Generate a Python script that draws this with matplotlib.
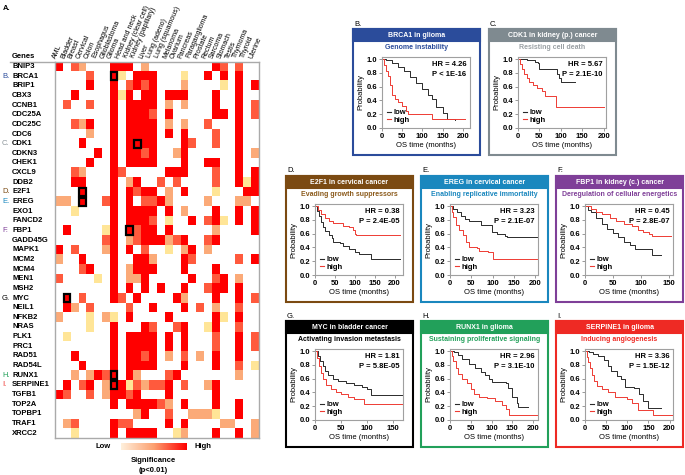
import numpy as np
import matplotlib
matplotlib.use('Agg')
import matplotlib.pyplot as plt
from matplotlib.colors import ListedColormap, LinearSegmentedColormap, BoundaryNorm
from matplotlib.patches import Rectangle
from matplotlib.lines import Line2D

plt.rcParams['font.family'] = ['Liberation Sans', 'DejaVu Sans']
plt.rcParams['font.weight'] = 'bold'

W, H = 685, 475

# heatmap: cancers (columns) and genes (rows)
cancers = ['AML', 'Bladder', 'Breast', 'Cervical', 'Colon', 'Esophagus', 'Glioblastoma',
           'Glioma', 'Head and neck', 'Kidney (clear cell)', 'Kidney (papillary)', 'Liver',
           'Lung (adeno)', 'Lung (squamous)', 'Melanoma', 'Ovarium', 'Pancreas',
           'Paraganglioma', 'Prostate', 'Rectum', 'Sarcoma', 'Stomach', 'Testis',
           'Thymoma', 'Thyroid', 'Uterine']
genes = ['BNIP3', 'BRCA1', 'BRIP1', 'CBX3', 'CCNB1', 'CDC25A', 'CDC25C', 'CDC6', 'CDK1',
         'CDKN3', 'CHEK1', 'CXCL9', 'DDB2', 'E2F1', 'EREG', 'EXO1', 'FANCD2', 'FBP1',
         'GADD45G', 'MAPK1', 'MCM2', 'MCM4', 'MEN1', 'MSH2', 'MYC', 'NEIL1', 'NFKB2',
         'NRAS', 'PLK1', 'PRC1', 'RAD51', 'RAD54L', 'RUNX1', 'SERPINE1', 'TGFB1',
         'TOP2A', 'TOPBP1', 'TRAF1', 'XRCC2']
# significance level per cell: . = none, 1 = low ... 4 = high
levels = [
    "4.32. ..444 .2... ..... 43.3. .",
    "....3 ..41. 444.. .1..4 .4.4. .",
    "....4 ..4.3 434.. .2... .1.4. 4",
    "..4.. ..414 .44.4 44... 4..4. .",
    ".3..3 ..4.4 444.2 .2... 4..4. 3",
    "..... ..4.4 443.4 ..... 44.4. 3",
    "..324 ..4.4 444.2 .2..3 ...4. .",
    "....2 ..4.4 444.4 .4... 3..4. .",
    "...4. ..4.4 444.. .43.. 3..4. .",
    "..... 4.4.4 434.. 24... ...4. 2",
    "....4 ..4.4 444.. .4..4 4..4. .",
    "..32. ..43. ....4 44... 3..4. 4",
    "..44. ..4.2 4..3. 3.... 3..41 4",
    "...4. ..4.4 344.2 .4... 1...4 4",
    "22.4. .34.4 .3342 ....2 ...22 .",
    "..1.. ..4.4 444.4 .2... 4..4. 4",
    "..... ..4.4 443.1 ..4.3 41.4. 4",
    ".4... .14.4 344.4 ..... 2.... 4",
    "..... .34.2 34442 34..3 4.... .",
    "4.3.. .24.4 .3..1 .24.2 ..... .",
    "2..4. ..4.. 442.. .43.. ...3. 4",
    "...34 ..4.2 444.. .4... 4.... .",
    "3.... 1.4.2 24... ..4.. 34.2. .",
    "..... ..4.4 .4.4. .4..3 44.4. .",
    ".4.3. ..43. 4.... 42... 4..4. 3",
    ".42.3 ....3 ..4.. .4.3. 2..3. .",
    "2...1 .21.4 ....4 ..... 41.4. .",
    "....1 ..4.. .43.. 34..1 4..3. .",
    ".1... ..4.4 444.4 .4... 3..4. 3",
    "..... ..4.4 444.4 .4... 3..4. 3",
    "..4.. ..4.4 434.2 .3.2. 4..4. .",
    "...4. ..4.4 444.. .4... 4..3. 1",
    "..2.2 434.4 2...3 4.... ...2. .",
    ".4.34 .2441 32334 .3..2 4.... .",
    "43..3 .2443 4...4 ..... 4.... .",
    "..... ..4.4 44432 .4... 4..4. .",
    "..... ..... 24..3 ..222 1..4. .",
    ".23.. ..433 ....4 .4... .22.. 2",
    "..1.. ..4.4 444.. 12... 4..4. 2",
]
marked = [('BRCA1', 'Glioma'), ('CDK1', 'Kidney (papillary)'), ('E2F1', 'Cervical'),
          ('EREG', 'Cervical'), ('FBP1', 'Kidney (clear cell)'), ('MYC', 'Bladder'),
          ('RUNX1', 'Glioma'), ('SERPINE1', 'Glioma')]
tags = {'BRCA1': ('B.', '#2b4c9b'), 'CDK1': ('C.', '#8a9399'), 'E2F1': ('D.', '#7b4a12'),
        'EREG': ('E.', '#1a87be'), 'FBP1': ('F.', '#7f3f98'), 'MYC': ('G.', '#000000'),
        'RUNX1': ('H.', '#22a05a'), 'SERPINE1': ('I.', '#ee2a24')}

# Kaplan-Meier curves (months, survival)
B_low = [(0, 1), (10, .98), (25, .95), (40, .89), (55, .82), (70, .74), (85, .66), (100, .56),
         (115, .48), (125, .42), (135, .30), (150, .22), (160, .13), (180, .12)]
B_high = [(0, 1), (5, .92), (10, .83), (15, .76), (20, .62), (25, .48), (32, .42), (40, .38),
          (50, .32), (60, .25), (65, .20), (125, .13), (205, .13)]
C_low = [(0, 1), (20, .98), (40, .96), (47, .94), (49, .86), (85, .85), (92, .78), (96, .72),
         (100, .67), (132, .67)]
C_high = [(0, 1), (5, .93), (10, .86), (15, .79), (20, .72), (25, .67), (35, .63), (45, .58),
          (55, .53), (62, .47), (88, .31), (200, .31)]
D_low = [(0, 1), (5, .93), (10, .85), (15, .77), (20, .69), (25, .64), (35, .58), (42, .54),
         (46, .48), (63, .46), (70, .42), (85, .38), (100, .33), (110, .30), (140, .23), (214, .23)]
D_high = [(0, 1), (8, .95), (15, .89), (25, .82), (35, .78), (45, .76), (60, .75), (70, .71),
          (85, .69), (95, .66), (100, .60), (104, .58), (214, .58)]
E_low = [(0, 1), (8, .96), (16, .92), (25, .86), (35, .81), (45, .79), (60, .78), (72, .73),
         (90, .72), (98, .63), (110, .60), (130, .57), (135, .55), (205, .55)]
E_high = [(0, 1), (4, .92), (8, .84), (15, .72), (22, .65), (30, .58), (38, .48), (45, .40),
          (63, .39), (68, .35), (90, .33), (102, .23), (205, .23)]
F_low = [(0, 1), (5, .95), (10, .91), (20, .83), (30, .74), (40, .67), (50, .61), (60, .55),
         (70, .48), (80, .43), (90, .38), (100, .37), (120, .29), (137, .29)]
F_high = [(0, 1), (10, .96), (20, .92), (30, .88), (45, .82), (55, .78), (70, .74), (85, .71),
          (95, .65), (105, .62), (115, .60), (120, .56), (154, .56)]
G_low = [(0, 1), (5, .93), (10, .85), (15, .78), (20, .71), (25, .66), (35, .60), (45, .56),
         (60, .53), (75, .51), (90, .48), (100, .45), (108, .36), (168, .36)]
G_high = [(0, 1), (4, .90), (8, .79), (12, .68), (16, .59), (22, .51), (30, .45), (40, .41),
          (50, .38), (63, .33), (75, .31), (94, .30), (95, .23), (168, .23)]
H_low = [(0, 1), (10, .98), (20, .94), (30, .88), (45, .81), (60, .75), (75, .70), (85, .65),
         (95, .59), (101, .55), (134, .54), (140, .46), (150, .34), (162, .25), (165, .19), (189, .19)]
H_high = [(0, 1), (4, .93), (8, .86), (14, .75), (20, .67), (28, .60), (40, .53), (50, .45),
          (58, .38), (70, .34), (90, .32), (108, .27), (125, .22), (135, .16), (143, .07), (218, .07)]
I_low = [(0, 1), (10, .98), (20, .96), (30, .93), (45, .87), (55, .78), (62, .71), (75, .64),
         (85, .59), (95, .48), (115, .46), (128, .37), (138, .27), (150, .17), (180, .17)]
I_high = [(0, 1), (4, .92), (8, .84), (12, .75), (16, .66), (22, .56), (28, .49), (40, .45),
          (55, .40), (70, .34), (100, .31), (110, .25), (125, .14), (160, .07), (215, .07)]

panels = [
    # tag, x, y, title, hallmark, colour, hallmark colour, HR, P, low, high, xmax, xticks
    ('B.', 353, 29, 'BRCA1 in glioma', 'Genome instability', '#2b4c9b', '#2b4c9b',
     'HR = 4.26', 'P < 1E-16', B_low, B_high, 218, [0, 50, 100, 150, 200]),
    ('C.', 489, 29, 'CDK1 in kidney (p.) cancer', 'Resisting cell death', '#7f8a90', '#9aa0a4',
     'HR = 5.67', 'P = 2.1E-10', C_low, C_high, 205, [0, 50, 100, 150, 200]),
    ('D.', 286, 176, 'E2F1 in cervical cancer', 'Evading growth suppressors', '#7b4a12', '#8b5a1b',
     'HR = 0.38', 'P = 2.4E-05', D_low, D_high, 221, [0, 50, 100, 150, 200]),
    ('E.', 421, 176, 'EREG in cervical cancer', 'Enabling replicative immortality', '#1a87be', '#1a87be',
     'HR = 3.23', 'P = 2.1E-07', E_low, E_high, 207, [0, 50, 100, 150, 200]),
    ('F.', 556, 176, 'FBP1 in kidney (c.) cancer', 'Deregulation of cellular energetics', '#7f3f98', '#7f3f98',
     'HR = 0.45', 'P = 2.8E-07', F_low, F_high, 158, [0, 50, 100, 150]),
    ('G.', 286, 321, 'MYC in bladder cancer', 'Activating invasion metastasis', '#000000', '#000000',
     'HR = 1.81', 'P = 5.8E-05', G_low, G_high, 170, [0, 50, 100, 150]),
    ('H.', 421, 321, 'RUNX1 in glioma', 'Sustaining proliferative signaling', '#22a05a', '#22a05a',
     'HR = 2.96', 'P = 3.1E-10', H_low, H_high, 212, [0, 50, 100, 150, 200]),
    ('I.', 556, 321, 'SERPINE1 in glioma', 'Inducing angiogenesis', '#ee2a24', '#ee2a24',
     'HR = 3.36', 'P = 1.5E-12', I_low, I_high, 208, [0, 50, 100, 150, 200]),
]

fig = plt.figure(figsize=(W / 100, H / 100), dpi=100)


def fax(x, y, w, h):
    return fig.add_axes([x / W, 1 - (y + h) / H, w / W, h / H])


def ftext(x, y, s, **kw):
    return fig.text(x / W, 1 - y / H, s, **kw)


# ---- A. heatmap
ftext(3, 8, 'A.', fontsize=5.5, va='center')
mat = np.array([[0 if c == '.' else int(c) for c in row.replace(' ', '')] for row in levels], float)
cmap = ListedColormap(['#ffe597', '#fbaa78', '#ff5a3d', '#ff0000'])
cmap.set_bad('white')
norm = BoundaryNorm([0.5, 1.5, 2.5, 3.5, 4.5], 4)
x0, y0, hw, hh = 55.3, 61.7, 203.7, 376.2
hm = fax(x0, y0, hw, hh)
hm.imshow(np.ma.masked_equal(mat, 0), cmap=cmap, norm=norm, aspect='auto', interpolation='nearest')
hm.set_xticks([])
hm.set_yticks([])
for sp in hm.spines.values():
    sp.set_color('#aaaaaa')
    sp.set_linewidth(1)
for g, c in marked:
    i, j = genes.index(g), cancers.index(c)
    hm.add_patch(Rectangle((j - 0.42, i - 0.42), 0.84, 0.84, fill=False, ec='black', lw=1.6))
for j, c in enumerate(cancers):
    hm.text(j - 0.15, -0.75, c, rotation=67, ha='left', va='bottom', rotation_mode='anchor',
            fontsize=5, fontweight='normal', clip_on=False)

rowh = hh / len(genes)
ftext(12, 57, 'Genes', fontsize=5.5, va='center')
fig.add_artist(Line2D([10 / W, x0 / W], [1 - y0 / H, 1 - y0 / H], color='#aaaaaa', lw=1))
for i, g in enumerate(genes):
    yc = y0 + rowh * (i + 0.5)
    ftext(12, yc, g, fontsize=5.5, va='center')
    if g in tags:
        ftext(2, yc, tags[g][0], fontsize=5.5, va='center', color=tags[g][1], fontweight='normal')

cb = fax(121, 443, 66, 7)
cb.imshow(np.linspace(0, 1, 256)[None, :], aspect='auto',
          cmap=LinearSegmentedColormap.from_list('sig', ['#fff0dc', '#fca070', '#ff0000']))
cb.set_axis_off()
ftext(103, 447, 'Low', fontsize=5.5, ha='center', va='center')
ftext(203, 447, 'High', fontsize=5.5, ha='center', va='center')
ftext(153, 460, 'Significance', fontsize=5.5, ha='center', va='center')
ftext(153, 470, '(p<0.01)', fontsize=5.5, ha='center', va='center')

# ---- B.-I. survival panels
low_col, high_col = '#2a2a2a', '#ee3b33'
for tag, x, y, title, hallmark, col, subcol, hr, p, low, high, xmax, xticks in panels:
    pw, ph = 127, 126
    box = fax(x, y, pw, ph)
    box.set_xlim(0, pw)
    box.set_ylim(ph, 0)
    box.set_axis_off()
    box.add_patch(Rectangle((0, 0), pw, 12, fc=col, ec=col, lw=1.5, clip_on=False))
    box.add_patch(Rectangle((0, 0), pw, ph, fill=False, ec=col, lw=1.5, clip_on=False))
    box.text(pw / 2, 6.3, title, color='white', ha='center', va='center', fontsize=5)
    box.text(pw / 2, 18.5, hallmark, color=subcol, ha='center', va='center', fontsize=5)
    ftext(x + 1, y - 5, tag, fontsize=5.5, va='center', fontweight='normal')

    ax = fax(x + 29, y + 28, 88, 71)
    for data, c in ((low, low_col), (high, high_col)):
        t, s = zip(*data)
        ax.step(t, s, where='post', color=c, lw=0.7)
    ax.set_xlim(0, xmax)
    ax.set_ylim(0, 1.03)
    ax.set_xticks(xticks)
    ax.set_yticks([0, 0.2, 0.4, 0.6, 0.8, 1.0])
    ax.set_yticklabels(['0.0', '0.2', '0.4', '0.6', '0.8', '1.0'])
    ax.tick_params(labelsize=5.5, length=2, pad=1.5, width=0.6, color='#888888')
    for sp in ax.spines.values():
        sp.set_color('#a0a0a0')
        sp.set_linewidth(0.8)
    ax.set_ylabel('Probability', fontsize=5.5, labelpad=1.5)
    ax.set_xlabel('OS time (months)', fontsize=5.5, labelpad=1.5)
    ax.text(0.96, 0.95, hr, transform=ax.transAxes, ha='right', va='top', fontsize=5.5)
    ax.text(0.96, 0.80, p, transform=ax.transAxes, ha='right', va='top', fontsize=5.5)
    ax.legend([Line2D([], [], color=low_col, lw=0.8), Line2D([], [], color=high_col, lw=0.8)],
              ['low', 'high'], loc='lower left', bbox_to_anchor=(0.03, 0.03), frameon=False,
              fontsize=5.5, handlelength=0.5, handletextpad=0.3, labelspacing=0.0,
              borderpad=0.1, borderaxespad=0.2)

fig.savefig('out.png', dpi=100, facecolor='white')
